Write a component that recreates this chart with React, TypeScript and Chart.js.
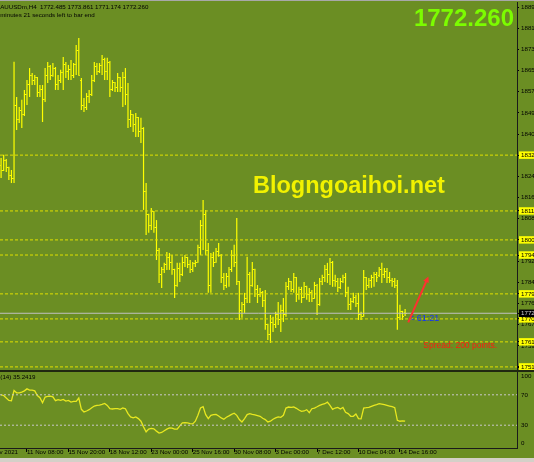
import { useEffect, useRef } from 'react';
import { Chart, registerables } from 'chart.js';

Chart.register(...registerables);

// ---------- data (XAUUSDm, H4) ----------
const opens = [
  1829.1, 1827.2, 1830.7, 1828.0, 1824.9, 1824.1, 1852.1, 1846.4, 1850.2, 1848.3,
  1856.0, 1859.8, 1863.6, 1861.7, 1862.5, 1857.1, 1857.9, 1854.1, 1863.6, 1866.7,
  1863.6, 1866.3, 1859.8, 1861.7, 1864.4, 1867.5, 1864.8, 1865.6, 1863.6, 1867.5,
  1873.2, 1861.7, 1852.1, 1851.0, 1855.2, 1856.0, 1861.7, 1866.7, 1864.8, 1867.1,
  1869.4, 1864.8, 1868.6, 1857.9, 1860.6, 1858.7, 1862.5, 1858.7, 1862.5, 1856.0,
  1846.4, 1848.3, 1844.5, 1847.2, 1841.8, 1843.3, 1818.8, 1810.0, 1806.1, 1811.1,
  1805.0, 1796.5, 1787.0, 1788.9, 1790.8, 1793.5, 1791.9, 1788.9, 1783.1, 1789.6,
  1787.0, 1791.9, 1793.5, 1790.8, 1788.9, 1791.2, 1791.9, 1797.3, 1806.1, 1810.0,
  1796.5, 1783.1, 1793.5, 1791.9, 1795.8, 1794.6, 1785.8, 1783.1, 1786.2, 1788.9,
  1794.6, 1791.9, 1784.3, 1773.5, 1775.5, 1778.1, 1787.0, 1783.1, 1788.9, 1781.2,
  1779.3, 1780.4, 1777.0, 1767.8, 1764.0, 1768.9, 1767.8, 1771.6, 1769.7, 1773.5,
  1771.6, 1782.4, 1784.3, 1781.2, 1785.8, 1779.3, 1781.2, 1778.5, 1782.4, 1779.3,
  1780.4, 1778.1, 1783.1, 1775.5, 1784.3, 1785.8, 1788.9, 1787.0, 1791.9, 1785.0,
  1784.3, 1782.0, 1784.3, 1785.8, 1780.4, 1775.5, 1776.6, 1778.5, 1776.2, 1771.6,
  1771.2, 1785.8, 1783.1, 1785.0, 1785.8, 1787.0, 1786.6, 1788.9, 1787.0, 1788.1,
  1785.8, 1785.0, 1784.3, 1783.1, 1770.5, 1772.8, 1772.485,
];
const highs = [
  1831.8, 1833.0, 1831.4, 1828.4, 1827.2, 1868.7, 1855.2, 1851.4, 1854.1, 1857.9,
  1861.7, 1866.3, 1864.4, 1863.6, 1862.9, 1859.8, 1859.8, 1866.3, 1868.6, 1867.5,
  1868.2, 1866.7, 1863.6, 1865.6, 1870.5, 1868.6, 1867.5, 1869.4, 1868.2, 1875.1,
  1877.8, 1862.5, 1854.8, 1856.7, 1857.9, 1863.6, 1868.6, 1868.2, 1868.2, 1871.3,
  1870.2, 1870.2, 1869.0, 1861.7, 1860.9, 1864.4, 1862.9, 1864.8, 1866.3, 1860.6,
  1850.2, 1848.6, 1849.1, 1847.5, 1847.2, 1843.6, 1822.2, 1810.4, 1812.6, 1811.5,
  1808.0, 1797.3, 1790.0, 1791.6, 1795.8, 1795.4, 1794.6, 1789.3, 1791.6, 1791.6,
  1793.9, 1794.6, 1793.9, 1792.7, 1791.9, 1792.7, 1798.5, 1808.0, 1815.7, 1811.9,
  1799.2, 1795.4, 1795.8, 1797.3, 1799.2, 1795.0, 1787.7, 1787.7, 1790.0, 1796.5,
  1798.5, 1808.8, 1784.6, 1776.6, 1780.1, 1793.9, 1788.1, 1791.9, 1789.3, 1783.1,
  1782.0, 1780.8, 1781.2, 1768.2, 1771.6, 1770.9, 1772.8, 1776.6, 1775.5, 1778.1,
  1784.3, 1785.8, 1784.6, 1787.7, 1786.2, 1782.4, 1782.4, 1784.3, 1782.8, 1782.0,
  1781.2, 1784.3, 1783.5, 1785.8, 1787.0, 1790.8, 1791.6, 1793.5, 1792.3, 1787.0,
  1785.8, 1785.8, 1787.0, 1787.7, 1782.4, 1778.1, 1780.1, 1779.3, 1780.1, 1772.8,
  1788.9, 1786.2, 1785.8, 1787.0, 1788.1, 1788.1, 1790.0, 1791.6, 1789.6, 1789.6,
  1788.1, 1785.8, 1785.8, 1785.0, 1775.5, 1773.2, 1773.861,
];
const lows = [
  1824.1, 1826.8, 1826.4, 1823.4, 1822.2, 1822.2, 1842.5, 1845.2, 1843.3, 1847.9,
  1852.1, 1855.2, 1859.8, 1859.8, 1855.2, 1855.2, 1845.6, 1853.3, 1860.6, 1861.7,
  1863.0, 1857.9, 1857.9, 1860.6, 1857.9, 1862.5, 1861.7, 1861.7, 1862.5, 1863.6,
  1863.3, 1850.2, 1849.4, 1850.2, 1852.9, 1855.6, 1860.9, 1863.6, 1864.4, 1863.6,
  1861.7, 1861.7, 1855.2, 1857.5, 1857.1, 1857.1, 1857.1, 1851.4, 1852.1, 1843.3,
  1843.7, 1841.8, 1839.9, 1839.9, 1837.6, 1811.9, 1802.3, 1803.1, 1804.2, 1803.1,
  1792.7, 1783.9, 1782.0, 1787.7, 1788.9, 1788.9, 1787.0, 1778.1, 1782.4, 1784.3,
  1786.6, 1790.0, 1789.6, 1787.7, 1788.1, 1790.0, 1791.6, 1794.6, 1796.5, 1794.6,
  1780.1, 1780.1, 1790.0, 1791.6, 1793.9, 1783.9, 1781.2, 1782.0, 1782.4, 1788.1,
  1790.0, 1783.1, 1769.7, 1770.5, 1772.4, 1776.2, 1776.2, 1782.4, 1778.5, 1776.2,
  1778.5, 1774.7, 1765.9, 1762.0, 1760.9, 1765.1, 1766.6, 1767.8, 1765.1, 1768.9,
  1770.9, 1781.2, 1780.4, 1780.1, 1776.6, 1777.4, 1776.2, 1778.1, 1777.4, 1776.6,
  1776.6, 1777.8, 1771.6, 1775.1, 1783.1, 1784.3, 1783.9, 1783.1, 1782.4, 1782.4,
  1780.4, 1781.6, 1783.9, 1778.5, 1773.5, 1773.5, 1776.2, 1774.7, 1769.7, 1769.7,
  1770.9, 1781.2, 1782.0, 1782.0, 1782.4, 1784.3, 1786.2, 1783.9, 1785.8, 1783.9,
  1783.9, 1782.4, 1782.0, 1765.9, 1769.7, 1769.7, 1771.174,
];
const closes = [
  1827.2, 1831.0, 1828.0, 1824.9, 1824.1, 1852.1, 1846.4, 1850.2, 1848.3, 1856.0,
  1859.8, 1863.6, 1861.7, 1862.5, 1857.1, 1857.9, 1854.1, 1863.6, 1866.7, 1863.6,
  1866.3, 1859.8, 1861.7, 1864.4, 1867.5, 1864.8, 1865.6, 1863.6, 1867.5, 1873.2,
  1863.6, 1852.1, 1851.0, 1855.2, 1856.0, 1861.7, 1866.7, 1864.8, 1867.1, 1869.4,
  1864.8, 1868.6, 1857.9, 1860.6, 1858.7, 1862.5, 1858.7, 1862.5, 1856.0, 1846.4,
  1848.3, 1844.5, 1847.2, 1841.8, 1843.3, 1818.8, 1810.0, 1806.1, 1811.1, 1805.0,
  1796.5, 1787.0, 1788.9, 1790.8, 1793.5, 1791.9, 1788.9, 1783.1, 1789.6, 1787.0,
  1791.9, 1793.5, 1790.8, 1788.9, 1791.2, 1791.9, 1797.3, 1806.1, 1810.0, 1796.5,
  1783.1, 1793.5, 1791.9, 1795.8, 1794.6, 1785.8, 1783.1, 1786.2, 1788.9, 1794.6,
  1791.9, 1784.3, 1773.5, 1775.5, 1778.1, 1787.0, 1783.1, 1788.9, 1781.2, 1779.3,
  1780.4, 1777.0, 1767.8, 1764.0, 1768.9, 1767.8, 1771.6, 1769.7, 1773.5, 1771.6,
  1782.4, 1784.3, 1781.2, 1785.8, 1779.3, 1781.2, 1778.5, 1782.4, 1779.3, 1780.4,
  1778.1, 1783.1, 1775.5, 1784.3, 1785.8, 1788.9, 1787.0, 1791.9, 1785.0, 1784.3,
  1782.0, 1784.3, 1785.8, 1780.4, 1775.5, 1776.6, 1778.5, 1776.2, 1771.6, 1770.9,
  1785.8, 1783.1, 1785.0, 1785.8, 1787.0, 1785.8, 1788.9, 1787.0, 1788.1, 1785.8,
  1785.0, 1784.3, 1783.1, 1770.5, 1772.8, 1771.2, 1772.26,
];
const rsi = [
  70.0, 69.1, 65.7, 62.6, 62.2, 75.7, 72.6, 72.6, 73.5, 75.2,
  77.8, 76.1, 76.1, 75.2, 69.1, 66.1, 59.6, 67.0, 67.8, 68.3,
  67.4, 62.2, 63.5, 62.6, 63.9, 61.7, 62.6, 60.4, 61.3, 61.3,
  65.7, 50.9, 47.4, 48.7, 50.4, 53.0, 55.2, 56.1, 56.5, 57.4,
  58.7, 56.1, 51.7, 51.3, 51.7, 51.7, 50.9, 52.6, 51.7, 45.2,
  40.9, 39.6, 40.9, 38.7, 35.2, 27.8, 21.3, 24.8, 25.7, 25.2,
  22.2, 19.6, 20.4, 22.6, 24.8, 26.5, 26.1, 24.8, 24.8, 29.1,
  33.0, 33.5, 33.0, 32.2, 31.7, 35.2, 43.0, 52.6, 54.5, 43.9,
  38.7, 43.0, 43.9, 44.3, 42.2, 39.6, 37.8, 40.4, 42.2, 44.3,
  45.7, 43.0, 37.4, 34.3, 38.7, 43.9, 45.2, 44.3, 43.5, 42.6,
  41.7, 39.1, 37.4, 34.3, 35.2, 37.8, 39.6, 40.9, 40.4, 43.0,
  52.6, 53.9, 53.5, 53.9, 52.2, 50.0, 48.3, 48.7, 50.4, 46.5,
  51.7, 52.6, 54.3, 56.1, 57.4, 58.3, 60.4, 56.1, 50.9, 52.6,
  53.5, 51.3, 53.5, 47.0, 45.2, 41.7, 41.7, 44.8, 38.7, 38.3,
  52.6, 53.0, 53.5, 54.8, 56.1, 57.0, 58.3, 57.8, 57.0, 56.1,
  55.2, 54.3, 53.0, 36.5, 35.2, 35.7, 35.2419,
];

const timeTickBars = [-7, 10, 26, 42, 58, 74, 90, 106, 122, 138, 154];
const timeTickLabels = [
  '10 Nov 2021', '11 Nov 08:00', '15 Nov 20:00', '18 Nov 12:00', '23 Nov 00:00',
  '25 Nov 16:00', '30 Nov 08:00', '3 Dec 00:00', '7 Dec 12:00', '10 Dec 04:00', '14 Dec 16:00',
];
const priceTicks = [
  1889.7, 1881.58, 1873.46, 1865.34, 1857.22, 1849.1, 1840.98, 1832.86, 1824.74,
  1816.62, 1808.5, 1792.26, 1784.14, 1776.02, 1767.9, 1759.78, 1751.66,
];
const levelLines = [1832.9, 1811.5, 1800.4, 1794.6, 1779.7, 1770.1, 1761.3, 1751.7];
const bidPrice = 1772.26;
const rsiLevels = [70, 30];
const rsiAxisTicks = [94.7, 70, 30, 6.6];
const rsiAxisLabels = ['100', '70', '30', '0'];
const spreadPoints = 200;
const arrowFrom = { x: 157.2, y: 1768.8 };
const arrowTo = { x: 165.0, y: 1786.4 };

const headerText = 'XAUUSDm,H4  1772.485 1773.861 1771.174 1772.260';
const countdownText = '2 minutes 21 seconds left to bar end';
const watermark = 'Blogngoaihoi.net';
const timerText = '< 61:21';

// ---------- view constants ----------
const X_MIN = -0.42;
const X_MAX = 199.2;
const PRICE_MIN = 1750.51;
const PRICE_MAX = 1891.62;
const BG = '#6b8e23';
const BAR = '#ffff00';
const FONT = '"Liberation Sans", Arial, sans-serif';
const AXIS_W = 17;

function tickImage(side: 'open' | 'close') {
  const c = document.createElement('canvas');
  c.width = 3;
  c.height = 1;
  const g = c.getContext('2d')!;
  g.fillStyle = BAR;
  g.fillRect(side === 'open' ? 0 : 2, 0, 1, 1);
  return c;
}

const bgPlugin = {
  id: 'mt4bg',
  beforeDraw(c: any) {
    const { ctx, width, height } = c;
    ctx.save();
    ctx.fillStyle = BG;
    ctx.fillRect(0, 0, width, height);
    ctx.restore();
  },
};

export default function App() {
  const mainRef = useRef<HTMLCanvasElement>(null);
  const rsiRef = useRef<HTMLCanvasElement>(null);

  useEffect(() => {
    const openImg = tickImage('open');
    const closeImg = tickImage('close');
    const idx = opens.map((_, i) => i);

    const mainPlugin = {
      id: 'mt4main',
      beforeDatasetsDraw(c: any) {
        const ctx = c.ctx;
        ctx.save();
        ctx.font = `bold 23.5px ${FONT}`;
        ctx.fillStyle = '#f2f200';
        ctx.textAlign = 'left';
        ctx.textBaseline = 'alphabetic';
        ctx.fillText(watermark, 253, 193);
        ctx.restore();
      },
      afterDraw(c: any) {
        const ctx = c.ctx;
        ctx.save();
        ctx.fillStyle = '#000';
        ctx.font = `6.2px ${FONT}`;
        ctx.textAlign = 'left';
        ctx.textBaseline = 'middle';
        ctx.fillText(headerText, -4, 7);
        ctx.fillText(countdownText, -5, 15.5);

        ctx.font = `bold 24px ${FONT}`;
        ctx.fillStyle = '#7cfc00';
        ctx.textAlign = 'right';
        ctx.textBaseline = 'alphabetic';
        ctx.fillText(bidPrice.toFixed(3), 514, 26);

        ctx.font = `8.5px ${FONT}`;
        ctx.fillStyle = '#ff1a10';
        ctx.textAlign = 'right';
        ctx.textBaseline = 'middle';
        ctx.fillText(`Spread: ${spreadPoints} points.`, 497, 346);

        ctx.font = `9px ${FONT}`;
        ctx.fillStyle = '#1030ff';
        ctx.textAlign = 'left';
        ctx.fillText(timerText, 409, 318.5);

        const xs = c.scales.x;
        const ys = c.scales.y;
        const x1 = xs.getPixelForValue(arrowFrom.x);
        const y1 = ys.getPixelForValue(arrowFrom.y);
        const x2 = xs.getPixelForValue(arrowTo.x);
        const y2 = ys.getPixelForValue(arrowTo.y);
        const ang = Math.atan2(y2 - y1, x2 - x1);
        ctx.strokeStyle = '#ff3030';
        ctx.fillStyle = '#ff3030';
        ctx.lineWidth = 2;
        ctx.beginPath();
        ctx.moveTo(x1, y1);
        ctx.lineTo(x2 - 4 * Math.cos(ang), y2 - 4 * Math.sin(ang));
        ctx.stroke();
        ctx.beginPath();
        ctx.moveTo(x2, y2);
        ctx.lineTo(x2 - 6 * Math.cos(ang) + 3 * Math.sin(ang), y2 - 6 * Math.sin(ang) - 3 * Math.cos(ang));
        ctx.lineTo(x2 - 6 * Math.cos(ang) - 3 * Math.sin(ang), y2 - 6 * Math.sin(ang) + 3 * Math.cos(ang));
        ctx.closePath();
        ctx.fill();

        ctx.fillStyle = '#a8a8a8';
        ctx.fillRect(0, 0, c.width, 1);
        ctx.fillStyle = '#202810';
        ctx.fillRect(0, 370, c.width, 1);
        ctx.restore();
      },
    };

    const main = new Chart(mainRef.current!, {
      type: 'bar',
      data: {
        datasets: [
          ...levelLines.map((v) => ({
            type: 'line' as const,
            data: [{ x: X_MIN, y: v }, { x: X_MAX, y: v }],
            borderColor: '#e0e000',
            borderWidth: 1,
            borderDash: [3, 2],
            pointRadius: 0,
          })),
          {
            type: 'line' as const,
            data: [{ x: X_MIN, y: bidPrice }, { x: X_MAX, y: bidPrice }],
            borderColor: '#c0c0c0',
            borderWidth: 1,
            pointRadius: 0,
          },
          {
            type: 'bar' as const,
            data: idx.map((i) => ({ x: i, y: [lows[i], highs[i]] })),
            backgroundColor: BAR,
            borderWidth: 0,
            barThickness: 1.2,
            inflateAmount: 0,
            borderSkipped: false,
          },
          {
            type: 'line' as const,
            data: idx.map((i) => ({ x: i, y: opens[i] })),
            showLine: false,
            pointStyle: openImg,
            pointRadius: 1,
          },
          {
            type: 'line' as const,
            data: idx.map((i) => ({ x: i, y: closes[i] })),
            showLine: false,
            pointStyle: closeImg,
            pointRadius: 1,
          },
        ] as any,
      },
      options: {
        responsive: false,
        animation: false,
        events: [],
        layout: { autoPadding: false, padding: { top: 2, bottom: 1, left: 0, right: 0 } },
        plugins: { legend: { display: false }, tooltip: { enabled: false } },
        scales: {
          x: { type: 'linear', min: X_MIN, max: X_MAX, offset: false, display: false },
          y: {
            position: 'right',
            min: PRICE_MIN,
            max: PRICE_MAX,
            afterBuildTicks: (s: any) => {
              s.ticks = [...priceTicks, ...levelLines, bidPrice].map((v) => ({ value: v }));
            },
            afterFit: (s: any) => {
              s.width = AXIS_W;
              s.paddingTop = 0;
              s.paddingBottom = 0;
            },
            ticks: {
              autoSkip: false,
              padding: 2,
              font: { family: FONT, size: 6.2 },
              color: (ctx: any) => (ctx.tick && ctx.tick.value === bidPrice ? '#d0d0d0' : '#000'),
              callback: (v: any) => Number(v).toFixed(3),
              showLabelBackdrop: true,
              backdropPadding: { left: 2, right: 20, top: 0, bottom: 0 },
              backdropColor: (ctx: any) => {
                const v = ctx.tick ? ctx.tick.value : null;
                if (v === bidPrice) return '#000';
                if (levelLines.includes(v)) return '#ffff00';
                return 'rgba(0,0,0,0)';
              },
            },
            grid: { drawOnChartArea: false, drawTicks: true, tickLength: 2, color: '#000' },
            border: { display: true, color: '#1a1a1a', width: 1 },
          },
        },
      } as any,
      plugins: [bgPlugin, mainPlugin],
    });

    const rsiPlugin = {
      id: 'mt4rsi',
      afterDraw(c: any) {
        const ctx = c.ctx;
        ctx.save();
        ctx.fillStyle = '#000';
        ctx.font = `6.2px ${FONT}`;
        ctx.textAlign = 'left';
        ctx.textBaseline = 'middle';
        ctx.fillText(`RSI(14) ${rsi[rsi.length - 1].toFixed(4)}`, -10, 6.5);
        ctx.fillStyle = '#202810';
        ctx.fillRect(0, 0, c.width, 1);
        ctx.fillStyle = '#d4d0c8';
        ctx.fillRect(0, 87, c.width, 4);
        ctx.restore();
      },
    };

    const rsiChart = new Chart(rsiRef.current!, {
      type: 'line',
      data: {
        datasets: [
          ...rsiLevels.map((v) => ({
            data: [{ x: X_MIN, y: v }, { x: X_MAX, y: v }],
            borderColor: '#c8c8c8',
            borderWidth: 1,
            borderDash: [2, 2],
            pointRadius: 0,
          })),
          {
            data: idx.map((i) => ({ x: i, y: rsi[i] })),
            borderColor: '#e8e820',
            borderWidth: 1.3,
            pointRadius: 0,
            tension: 0,
          },
        ],
      },
      options: {
        responsive: false,
        animation: false,
        events: [],
        layout: { autoPadding: false, padding: { top: 1, bottom: 0, left: 0, right: 0 } },
        plugins: { legend: { display: false }, tooltip: { enabled: false } },
        scales: {
          x: {
            type: 'linear',
            min: X_MIN,
            max: X_MAX,
            offset: false,
            afterBuildTicks: (s: any) => {
              s.ticks = timeTickBars.map((v) => ({ value: v }));
            },
            afterFit: (s: any) => {
              s.height = 14;
              s.paddingLeft = 0;
              s.paddingRight = 0;
            },
            ticks: {
              autoSkip: false,
              maxRotation: 0,
              minRotation: 0,
              align: 'start',
              padding: -3,
              font: { family: FONT, size: 6.2 },
              color: '#000',
              callback: (_v: any, i: number) => timeTickLabels[i],
            },
            grid: { drawOnChartArea: false, drawTicks: true, tickLength: 4, color: '#000' },
            border: { display: true, color: '#1a1a1a', width: 1 },
          },
          y: {
            position: 'right',
            min: 0,
            max: 100,
            afterBuildTicks: (s: any) => {
              s.ticks = rsiAxisTicks.map((v) => ({ value: v }));
            },
            afterFit: (s: any) => {
              s.width = AXIS_W;
              s.paddingTop = 0;
              s.paddingBottom = 0;
            },
            ticks: {
              autoSkip: false,
              padding: 2,
              font: { family: FONT, size: 6.2 },
              color: '#000',
              callback: (_v: any, i: number) => rsiAxisLabels[i],
            },
            grid: { drawOnChartArea: false, drawTicks: true, tickLength: 2, color: 'rgba(0,0,0,0)' },
            border: { display: true, color: '#1a1a1a', width: 1 },
          },
        },
      } as any,
      plugins: [bgPlugin, rsiPlugin],
    });

    return () => {
      main.destroy();
      rsiChart.destroy();
    };
  }, []);

  return (
    <div style={{ position: 'absolute', left: 0, top: 0, width: 534, height: 462 }}>
      <canvas ref={mainRef} width={534} height={371} style={{ display: 'block' }} />
      <canvas ref={rsiRef} width={534} height={91} style={{ display: 'block' }} />
    </div>
  );
}
